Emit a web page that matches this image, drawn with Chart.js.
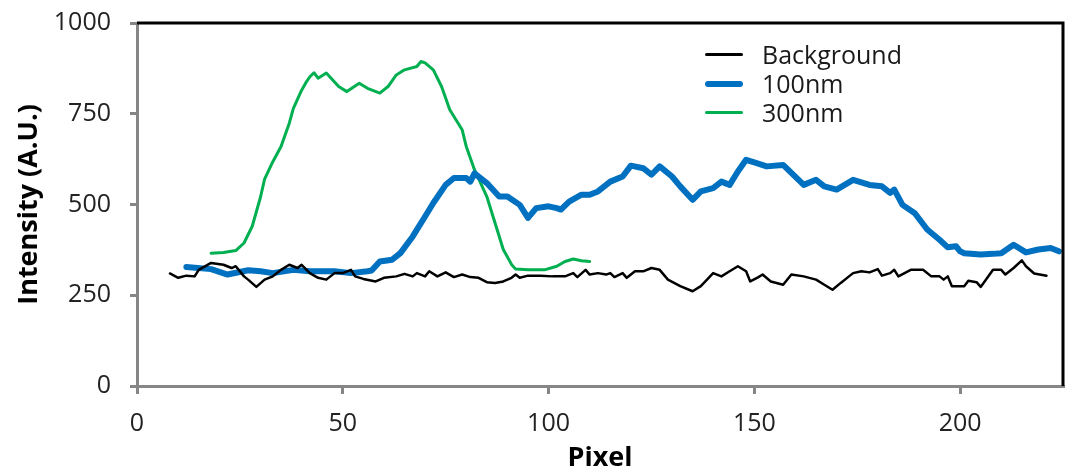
<!DOCTYPE html>
<html lang="en">
<head>
  <meta charset="UTF-8" />
  <title>Intensity profile</title>
  <script src="https://cdn.jsdelivr.net/npm/chart.js"></script>
  <style>
    body { margin: 0; background: #fff; font-family: 'Open Sans', sans-serif }
    .wrap { position: relative; width: 1072px; height: 472px }
    .legend { position: absolute; left: 705px; top: 40px; font-size: 25px; color: #1a1a1a }
    .legend .row { display: flex; align-items: center; height: 29px; line-height: 29px }
    .legend .swatch { width: 38px; margin-right: 19px; border-radius: 3px }
  </style>
</head>
<body>
  <div class="wrap">
    <canvas id="chart"></canvas>
    <div class="legend" id="legend"></div>
  </div>

  <script>
    // Background (black)
    const bgX = [8, 10, 12, 14, 15, 18, 21, 23, 24, 26, 27, 29, 31, 33, 35, 37, 39, 40, 42, 44, 46, 48, 50, 52, 53, 55, 58, 60, 63, 65, 67, 68, 70, 71, 73, 75, 77, 79, 81, 83, 85, 87, 89, 91, 92, 93, 95, 98, 101, 104, 106, 107, 109, 110, 112, 114, 115, 116, 118, 119, 121, 123, 125, 127, 129, 132, 135, 137, 140, 142, 144, 146, 148, 149, 151, 152, 154, 157, 159, 162, 165, 167, 169, 171, 173, 174, 176, 178, 180, 181, 183, 184, 185, 188, 191, 193, 195, 196, 197, 198, 201, 202, 204, 205, 208, 210, 211, 213, 215, 216, 218, 221];
    const bgY = [310, 298, 304, 302, 320, 339, 334, 325, 330, 302, 293, 273, 293, 302, 320, 334, 325, 334, 311, 298, 293, 311, 311, 320, 302, 295, 288, 298, 302, 309, 302, 311, 302, 316, 302, 313, 300, 307, 300, 298, 286, 284, 288, 298, 307, 298, 304, 304, 302, 302, 311, 300, 320, 307, 311, 307, 311, 300, 311, 298, 316, 316, 325, 320, 293, 275, 261, 275, 311, 302, 316, 330, 316, 288, 300, 307, 288, 279, 307, 302, 293, 279, 265, 284, 302, 311, 316, 313, 322, 304, 311, 320, 302, 320, 320, 302, 302, 293, 302, 275, 275, 290, 286, 273, 320, 320, 307, 325, 346, 330, 310, 304];

    // 100nm (blue)
    const nm100X = [12, 18, 22, 27, 30, 33, 38, 42, 48, 52, 56, 57, 59, 62, 64, 67, 70, 72, 75, 77, 80, 81, 82, 85, 88, 90, 93, 95, 97, 100, 102, 103, 105, 108, 110, 112, 115, 118, 120, 123, 125, 127, 130, 132, 135, 137, 140, 142, 144, 146, 148, 150, 153, 157, 159, 162, 165, 167, 170, 174, 178, 181, 183, 184, 186, 189, 192, 195, 197, 199, 200, 201, 205, 208, 210, 213, 216, 219, 222, 224];
    const nm100Y = [328, 322, 307, 319, 316, 311, 320, 316, 316, 311, 316, 318, 343, 348, 366, 412, 467, 504, 554, 573, 573, 563, 586, 559, 522, 522, 499, 463, 490, 495, 490, 486, 508, 527, 527, 536, 563, 577, 607, 600, 582, 605, 577, 550, 513, 536, 545, 563, 554, 591, 623, 616, 605, 609, 587, 554, 568, 550, 541, 568, 554, 550, 532, 541, 499, 476, 431, 403, 382, 385, 371, 366, 362, 364, 366, 389, 368, 376, 380, 371];

    // 300nm (green)
    const nm300X = [18, 21, 24, 26, 28, 30, 31, 33, 35, 37, 38, 40, 41, 42, 43, 44, 46, 47, 49, 51, 54, 56, 59, 61, 63, 65, 68, 69, 70, 72, 74, 76, 79, 80, 82, 85, 87, 89, 91, 92, 95, 99, 102, 104, 106, 108, 110];
    const nm300Y = [366, 368, 373, 394, 440, 520, 570, 618, 660, 724, 765, 815, 835, 852, 863, 848, 862, 850, 825, 811, 834, 820, 807, 825, 857, 871, 880, 894, 890, 871, 825, 761, 706, 660, 596, 522, 449, 376, 335, 322, 320, 320, 330, 343, 350, 345, 343];

    const seriesNames = ['Background', '100nm', '300nm'];
    const seriesColors = ['#000000', '#0070C0', '#00B050'];
    const seriesWidths = [2.5, 6, 3];

    const xTicks = [0, 50, 100, 150, 200];
    const yTicks = [0, 250, 500, 750, 1000];

    const toPoints = (xs, ys) => xs.map((x, i) => ({ x: x, y: ys[i] }));
    const allX = [bgX, nm100X, nm300X];
    const allY = [bgY, nm100Y, nm300Y];

    const axisGray = '#868686';
    const tickFont = { family: 'Open Sans', size: 25 };
    const titleFont = { family: 'Open Sans', size: 27, weight: 'bold', lineHeight: 1 };

    // black frame on top and right of the plot
    const frame = {
      id: 'frame',
      afterDraw(chart) {
        const { ctx, chartArea: a } = chart;
        ctx.save();
        ctx.strokeStyle = '#000';
        ctx.lineWidth = 3;
        ctx.beginPath();
        ctx.moveTo(a.left, a.top);
        ctx.lineTo(a.right, a.top);
        ctx.lineTo(a.right, a.bottom);
        ctx.stroke();
        ctx.restore();
      }
    };

    const chart = new Chart(document.getElementById('chart'), {
      type: 'line',
      data: {
        datasets: seriesNames.map((name, i) => ({
          label: name,
          data: toPoints(allX[i], allY[i]),
          borderColor: seriesColors[i],
          borderWidth: seriesWidths[i],
          pointRadius: 0,
          tension: 0,
          fill: false,
          borderJoinStyle: 'round',
          borderCapStyle: 'round'
        }))
      },
      options: {
        responsive: true,
        maintainAspectRatio: false,
        animation: false,
        layout: { padding: { top: 23, right: 9, bottom: 0, left: 0 } },
        plugins: { legend: { display: false }, tooltip: { enabled: false } },
        scales: {
          x: {
            type: 'linear',
            min: 0,
            max: 225,
            afterBuildTicks: s => { s.ticks = xTicks.map(v => ({ value: v })); },
            afterFit: s => { s.height = 86; s.paddingLeft = 0; s.paddingRight = 0; },
            border: { color: axisGray, width: 3 },
            grid: { drawOnChartArea: false, color: axisGray, lineWidth: 3, tickLength: 8 },
            ticks: { font: tickFont, color: '#222', padding: 15, maxRotation: 0, callback: v => String(v) },
            title: { display: true, text: 'Pixel', font: titleFont, color: '#000', padding: { top: 0, bottom: 0 } }
          },
          y: {
            min: 0,
            max: 1000,
            afterBuildTicks: s => { s.ticks = yTicks.map(v => ({ value: v })); },
            afterFit: s => { s.width = 137; s.paddingTop = 0; s.paddingBottom = 0; },
            border: { color: axisGray, width: 3 },
            grid: { drawOnChartArea: false, color: axisGray, lineWidth: 3, tickLength: 7 },
            ticks: { font: tickFont, color: '#222', padding: 19, callback: v => String(v) },
            title: { display: true, text: 'Intensity (A.U.)', font: titleFont, color: '#000', padding: { top: 16, bottom: 0 } }
          }
        }
      },
      plugins: [frame]
    });

    // legend built from the same series lists
    const legend = document.getElementById('legend');
    seriesNames.forEach((name, i) => {
      const row = document.createElement('div');
      row.className = 'row';
      const sw = document.createElement('span');
      sw.className = 'swatch';
      sw.style.height = seriesWidths[i] + 'px';
      sw.style.background = seriesColors[i];
      const txt = document.createElement('span');
      txt.textContent = name;
      row.appendChild(sw);
      row.appendChild(txt);
      legend.appendChild(row);
    });
  </script>
</body>
</html>
